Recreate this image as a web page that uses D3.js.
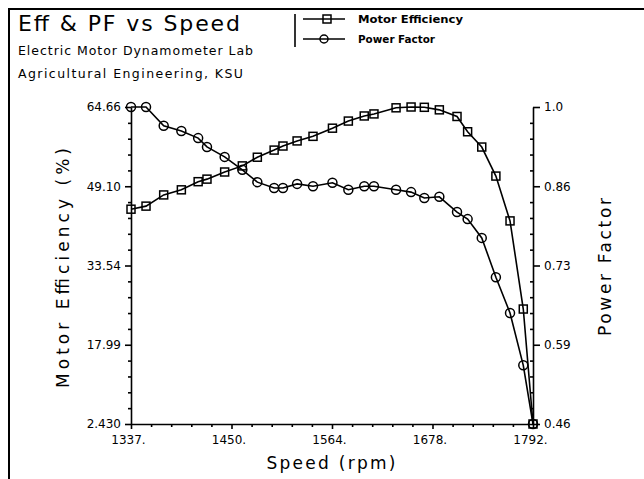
<!DOCTYPE html>
<html>
<head>
<meta charset="utf-8">
<script src="https://cdn.jsdelivr.net/npm/d3@7"></script>
<style>
	body { margin: 0; background: #fff; }
	text { font-family: 'DejaVu Sans', sans-serif; fill: #000; }
</style>
</head>
<body>
<div id="chart"></div>
<script>

const speeds = [1337, 1354, 1374, 1394, 1413, 1423, 1443, 1463, 1480, 1499, 1509, 1525, 1543, 1565,
	1583, 1601, 1612, 1637, 1654, 1669, 1686, 1706, 1718, 1734, 1750, 1766, 1781, 1792];

const efficiency = [44.6, 45.2, 47.4, 48.4, 50.0, 50.5, 51.9, 53.1, 54.8, 56.2, 57.0, 58.0, 58.9, 60.5,
	61.9, 62.9, 63.3, 64.5, 64.66, 64.6, 64.1, 62.8, 59.8, 56.8, 51.1, 42.3, 25.0, 2.43];

const powerFactor = [1.0, 1.0, 0.968, 0.959, 0.947, 0.932, 0.915, 0.893, 0.872, 0.862, 0.862, 0.869, 0.865, 0.871,
	0.859, 0.865, 0.865, 0.859, 0.855, 0.845, 0.847, 0.821, 0.809, 0.777, 0.710, 0.649, 0.560, 0.46];

const xTicks = [1337, 1450.75, 1564.5, 1678.25, 1792];
const xTickLabels = ['1337.', '1450.', '1564.', '1678.', '1792.'];
const effTicks = [2.43, 17.9875, 33.545, 49.1025, 64.66];
const effTickLabels = ['2.430', '17.99', '33.54', '49.10', '64.66'];
const pfTicks = [0.46, 0.595, 0.73, 0.865, 1.0];
const pfTickLabels = ['0.46', '0.59', '0.73', '0.86', '1.0'];

const W = 644, H = 479;
const plot = {left: 131, right: 533, top: 107, bottom: 424};

const svg = d3.select('#chart')
	.append('svg')
	.attr('width', W)
	.attr('height', H);

// frame (top and left edges only are visible in the scan)
svg.append('path')
	.attr('d', `M9,${H} L9,9 L${W},9`)
	.attr('fill', 'none')
	.attr('stroke', '#000')
	.attr('stroke-width', 2);

const x = d3.scaleLinear().domain([1337, 1792]).range([plot.left, plot.right]);
const yEff = d3.scaleLinear().domain([2.43, 64.66]).range([plot.bottom, plot.top]);
const yPf = d3.scaleLinear().domain([0.46, 1.0]).range([plot.bottom, plot.top]);

// five minor steps between each pair of labelled ticks
const minors = (ticks) => {
	let out = [];
	for (let i = 0; i < ticks.length - 1; i++) {
		const step = (ticks[i + 1] - ticks[i]) / 5;
		for (let k = 1; k < 5; k++) out.push(ticks[i] + k * step);
	}
	return out;
};

const styleAxis = (g) => {
	g.selectAll('path, line').attr('stroke', '#000').attr('stroke-width', 1.6);
	g.selectAll('text').attr('font-size', 12).attr('fill', '#000')
		.attr('font-family', "'DejaVu Sans', sans-serif");
};

// left axis
svg.append('g')
	.attr('transform', `translate(${plot.left},0)`)
	.call(d3.axisLeft(yEff).tickValues(effTicks).tickSize(6).tickSizeOuter(0).tickPadding(4)
		.tickFormat((d, i) => effTickLabels[i]))
	.call(styleAxis);
svg.append('g')
	.attr('transform', `translate(${plot.left},0)`)
	.call(d3.axisLeft(yEff).tickValues(minors(effTicks)).tickSize(3).tickFormat(''))
	.call(g => g.select('.domain').remove())
	.call(styleAxis);

// right axis
svg.append('g')
	.attr('transform', `translate(${plot.right},0)`)
	.call(d3.axisRight(yPf).tickValues(pfTicks).tickSize(7).tickSizeOuter(0).tickPadding(4)
		.tickFormat((d, i) => pfTickLabels[i]))
	.call(styleAxis);
svg.append('g')
	.attr('transform', `translate(${plot.right},0)`)
	.call(d3.axisLeft(yPf).tickValues(minors(pfTicks)).tickSize(3).tickFormat(''))
	.call(g => g.select('.domain').remove())
	.call(styleAxis);

// bottom axis
const xAxis = svg.append('g')
	.attr('transform', `translate(0,${plot.bottom})`)
	.call(d3.axisBottom(x).tickValues(xTicks).tickSize(5).tickSizeOuter(0).tickPadding(6)
		.tickFormat((d, i) => xTickLabels[i]))
	.call(styleAxis);
xAxis.selectAll('text').attr('dx', -3);
svg.append('g')
	.attr('transform', `translate(0,${plot.bottom})`)
	.call(d3.axisBottom(x).tickValues(minors(xTicks)).tickSize(3).tickFormat(''))
	.call(g => g.select('.domain').remove())
	.call(styleAxis);

// series
const effLine = d3.line().x((d, i) => x(speeds[i])).y(d => yEff(d));
const pfLine = d3.line().x((d, i) => x(speeds[i])).y(d => yPf(d));

svg.append('path')
	.datum(efficiency)
	.attr('d', effLine)
	.attr('fill', 'none')
	.attr('stroke', '#000')
	.attr('stroke-width', 1.6);

svg.append('path')
	.datum(powerFactor)
	.attr('d', pfLine)
	.attr('fill', 'none')
	.attr('stroke', '#000')
	.attr('stroke-width', 1.6);

const sq = 8;
svg.append('g').selectAll('rect')
	.data(efficiency)
	.join('rect')
	.attr('x', (d, i) => x(speeds[i]) - sq / 2)
	.attr('y', d => yEff(d) - sq / 2)
	.attr('width', sq)
	.attr('height', sq)
	.attr('fill', 'none')
	.attr('stroke', '#000')
	.attr('stroke-width', 1.5);

svg.append('g').selectAll('circle')
	.data(powerFactor)
	.join('circle')
	.attr('cx', (d, i) => x(speeds[i]))
	.attr('cy', d => yPf(d))
	.attr('r', 4.5)
	.attr('fill', 'none')
	.attr('stroke', '#000')
	.attr('stroke-width', 1.5);

// titles
svg.append('text')
	.attr('x', 18).attr('y', 31)
	.attr('font-size', 22)
	.attr('textLength', 222).attr('lengthAdjust', 'spacing')
	.text('Eff & PF vs Speed');

svg.append('text')
	.attr('x', 18).attr('y', 55)
	.attr('font-size', 12.5)
	.attr('textLength', 235).attr('lengthAdjust', 'spacing')
	.text('Electric Motor Dynamometer Lab');

svg.append('text')
	.attr('x', 18).attr('y', 78)
	.attr('font-size', 12.5)
	.attr('textLength', 225).attr('lengthAdjust', 'spacing')
	.text('Agricultural Engineering, KSU');

// legend
svg.append('line')
	.attr('x1', 295).attr('x2', 295).attr('y1', 14).attr('y2', 47)
	.attr('stroke', '#000').attr('stroke-width', 1.6);

const legend = svg.append('g');
legend.append('line').attr('x1', 303).attr('x2', 345).attr('y1', 19).attr('y2', 19)
	.attr('stroke', '#000').attr('stroke-width', 1.6);
legend.append('rect').attr('x', 327 - sq / 2).attr('y', 19 - sq / 2).attr('width', sq).attr('height', sq)
	.attr('fill', 'none').attr('stroke', '#000').attr('stroke-width', 1.5);
legend.append('text').attr('x', 358).attr('y', 23).attr('font-size', 10).attr('font-weight', 'bold')
	.attr('textLength', 105).attr('lengthAdjust', 'spacingAndGlyphs')
	.text('Motor Efficiency');
legend.append('line').attr('x1', 303).attr('x2', 345).attr('y1', 39).attr('y2', 39)
	.attr('stroke', '#000').attr('stroke-width', 1.6);
legend.append('circle').attr('cx', 324).attr('cy', 39).attr('r', 4)
	.attr('fill', 'none').attr('stroke', '#000').attr('stroke-width', 1.5);
legend.append('text').attr('x', 358).attr('y', 43).attr('font-size', 10).attr('font-weight', 'bold')
	.attr('textLength', 77).attr('lengthAdjust', 'spacingAndGlyphs')
	.text('Power Factor');

// axis titles
svg.append('text')
	.attr('transform', 'translate(69,268) rotate(-90)')
	.attr('text-anchor', 'middle')
	.attr('font-size', 17)
	.attr('textLength', 240).attr('lengthAdjust', 'spacing')
	.text('Motor Efficiency (%)');

svg.append('text')
	.attr('transform', 'translate(611,267) rotate(-90)')
	.attr('text-anchor', 'middle')
	.attr('font-size', 17)
	.attr('textLength', 138).attr('lengthAdjust', 'spacing')
	.text('Power Factor');

svg.append('text')
	.attr('x', 331).attr('y', 469)
	.attr('text-anchor', 'middle')
	.attr('font-size', 17)
	.attr('textLength', 129).attr('lengthAdjust', 'spacing')
	.text('Speed (rpm)');

</script>
</body>
</html>
